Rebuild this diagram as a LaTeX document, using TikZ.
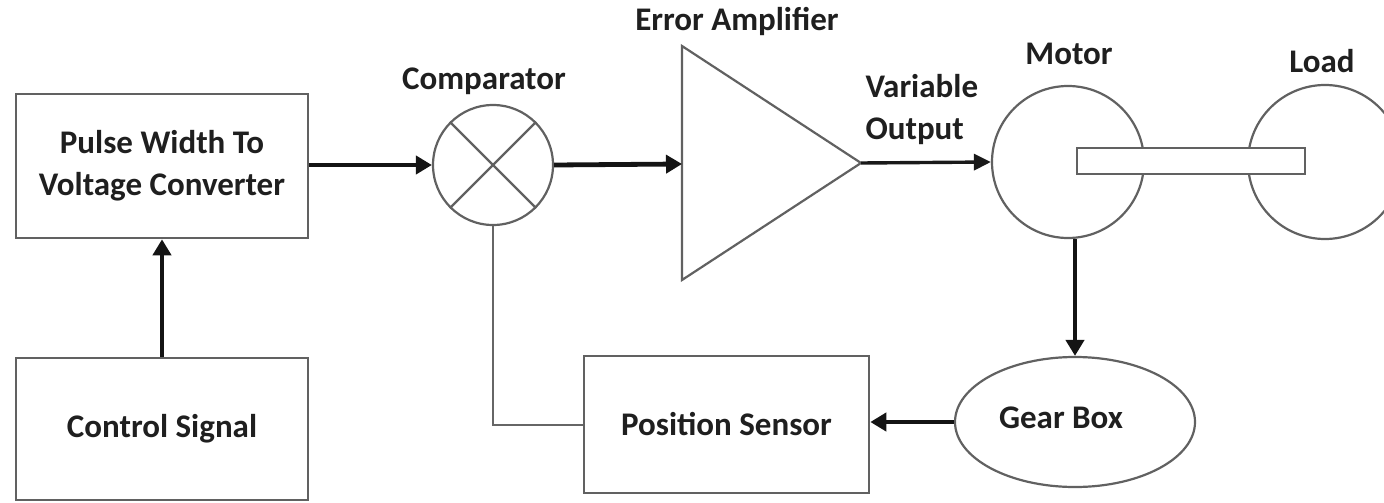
\documentclass[tikz,border=0pt]{standalone}
\usepackage{fontspec}
\setmainfont{Carlito}
\usetikzlibrary{arrows.meta,shapes.geometric}
\begin{document}
\begin{tikzpicture}[x=1pt,y=-1pt,
  lbl/.style={font=\bfseries\fontsize{33}{42}\selectfont, text=black!88, align=center},
  blk/.style={draw=black!62, line width=2.6pt, fill=white, inner sep=0pt},
  rnd/.style={draw=black!62, line width=2.2pt, fill=white, inner sep=0pt},
  thk/.style={draw=black!92, line width=4.8pt, -{Triangle[length=16pt,width=18pt]}},
  med/.style={draw=black!90, line width=3.4pt, -{Triangle[length=17pt,width=16pt]}},
  fb/.style={draw=black!60, line width=2pt}
]
\useasboundingbox (0,0) rectangle (1384,503);
\clip (0,0) rectangle (1384,503);

% blocks
\node[blk, lbl, minimum width=292pt, minimum height=144pt] (pwvc) at (162,166) {Pulse Width To\\Voltage Converter};
\node[blk, lbl, minimum width=292pt, minimum height=142pt] (ctrl) at (162,429) {Control Signal};
\node[blk, lbl, minimum width=285pt, minimum height=137pt] (sensor) at (726.5,424.5) {Position Sensor};

% comparator
\node[rnd, circle, minimum size=120pt] (comp) at (493,165) {};
\draw[rnd] (comp.north west) -- (comp.south east);
\draw[rnd] (comp.north east) -- (comp.south west);
\node[lbl] (lcomp) at (484,81) {Comparator};

% error amplifier
\draw[rnd, line join=miter] (682,46) -- (682,280) -- (861,163) -- cycle;
\coordinate (ampin) at (682,164);
\coordinate (ampout) at (861,163);
\node[lbl] (lamp) at (737,21) {Error Amplifier};
\node[lbl, align=left, anchor=west] (lvar) at (862,110) {Variable\\Output};

% motor, load, shaft
\node[rnd, circle, minimum size=152pt] (motor) at (1068,162) {};
\node[rnd, circle, minimum size=154pt] (load) at (1325,162) {};
\node[rnd, rectangle, minimum width=228pt, minimum height=26pt] (shaft) at (1191,161) {};
\node[lbl] (lmotor) at (1069,54) {Motor};
\node[lbl] (lload) at (1322,61) {Load};

% gear box
\node[rnd, ellipse, minimum width=240pt, minimum height=130pt] (gear) at (1075,422) {};
\node[lbl] (lgear) at (1061,418) {Gear Box};

% connectors
\draw[thk] (ctrl.north) -- (pwvc.south);
\draw[thk] (comp.west -| pwvc.east) -- (comp.west);
\draw[thk] (comp.east) -- (ampin);
\draw[med] (ampout) -- (motor.west);
\draw[thk] (gear.north |- motor.south) -- (gear.north);
\draw[thk] (gear.west) -- (sensor.east |- gear.west);
\draw[fb] (sensor.west) -| (comp.south);
\end{tikzpicture}
\end{document}
